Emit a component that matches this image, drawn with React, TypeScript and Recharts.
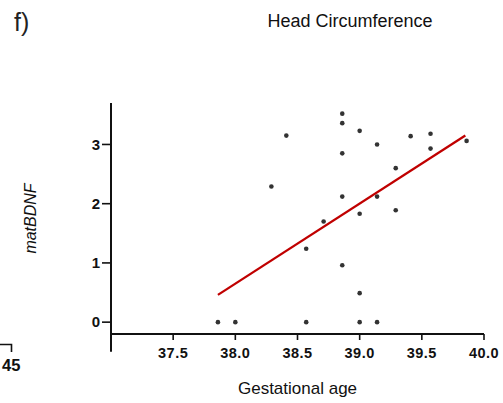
import React from "react";
import {
  ScatterChart,
  Scatter,
  XAxis,
  YAxis,
  ReferenceLine,
  Customized,
} from "recharts";

// Gestational age (weeks) for each subject
const gestationalAge = [
  37.86, 38.0, 38.29, 38.41, 38.57, 38.57, 38.71, 38.86, 38.86, 38.86,
  38.86, 38.86, 39.0, 39.0, 39.0, 39.0, 39.14, 39.14, 39.14, 39.29, 39.29,
  39.41, 39.57, 39.57, 39.86,
];

// matBDNF value for each subject
const matBDNF = [
  0.0, 0.0, 2.29, 3.15, 1.24, 0.0, 1.7, 3.52, 3.36, 2.85, 2.12, 0.96, 3.23,
  1.83, 0.49, 0.0, 3.0, 2.12, 0.0, 2.6, 1.89, 3.14, 3.18, 2.93, 3.06,
];

// Linear fit end points
const fitAge = [37.86, 39.85];
const fitValue = [0.46, 3.15];

const xTicks = [37.5, 38.0, 38.5, 39.0, 39.5, 40.0];
const yTicks = [0, 1, 2, 3];

const points = gestationalAge.map((x, i) => ({ x, y: matBDNF[i] }));
const fitLine = fitAge.map((x, i) => ({ x, y: fitValue[i] }));

const FONT = "'Liberation Sans', Arial, sans-serif";

const Dot = (props: any) => {
  const { cx, cy } = props;
  if (cx == null || cy == null) return null;
  return <circle cx={cx} cy={cy} r={2.3} fill="#333" />;
};

const Annotations = () => (
  <g fontFamily={FONT}>
    <text x={14} y={31} fontSize={25} fill="#222" fontWeight={300}>
      f)
    </text>
    <text x={350} y={27} fontSize={18} fill="#111" textAnchor="middle">
      Head Circumference
    </text>
    <path d="M0 344.5 H11.5 V352" stroke="#111" strokeWidth={1.6} fill="none" />
    <text x={2} y={371} fontSize={16.5} fontWeight="bold" fill="#111">
      45
    </text>
  </g>
);

export default function App() {
  return (
    <div style={{ position: "absolute", left: 0, top: 0, width: 503, height: 403, background: "#fff" }}>
      <ScatterChart
        width={503}
        height={403}
        margin={{ top: 103, right: 19, bottom: 0, left: 0 }}
        style={{ fontFamily: FONT }}
      >
        <XAxis
          type="number"
          dataKey="x"
          domain={[37, 40]}
          ticks={xTicks}
          tickFormatter={(v: number) => v.toFixed(1)}
          axisLine={{ stroke: "#111", strokeWidth: 2 }}
          tickLine={{ stroke: "#111", strokeWidth: 1.6 }}
          tickSize={6}
          tickMargin={8}
          tick={{ fill: "#111", fontSize: 14.5, fontWeight: "bold", letterSpacing: 0.5 }}
          allowDataOverflow
          height={69}
          label={{
            value: "Gestational age",
            position: "insideBottom",
            offset: 9,
            fill: "#111",
            fontSize: 17,
          }}
        />
        <YAxis
          type="number"
          dataKey="y"
          domain={[-0.2, 3.7]}
          ticks={yTicks}
          axisLine={{ stroke: "#111", strokeWidth: 2 }}
          tickLine={{ stroke: "#111", strokeWidth: 1.6 }}
          tickSize={9}
          tick={{ fill: "#111", fontSize: 15, fontWeight: "bold" }}
          allowDataOverflow
          width={111}
          label={{
            value: "matBDNF",
            angle: -90,
            position: "insideLeft",
            offset: 30,
            fill: "#111",
            fontSize: 16,
            fontStyle: "italic",
            style: { textAnchor: "middle" },
          }}
        />
        <ReferenceLine
          segment={[
            { x: 37, y: -0.2 },
            { x: 37, y: -0.5 },
          ]}
          stroke="#111"
          strokeWidth={2}
          ifOverflow="visible"
        />
        <Scatter
          data={points}
          shape={<Dot />}
          isAnimationActive={false}
        />
        <Scatter
          data={fitLine}
          line={{ stroke: "#c00000", strokeWidth: 2.3 }}
          shape={() => null}
          isAnimationActive={false}
        />
        <Customized component={Annotations} />
      </ScatterChart>
    </div>
  );
}
